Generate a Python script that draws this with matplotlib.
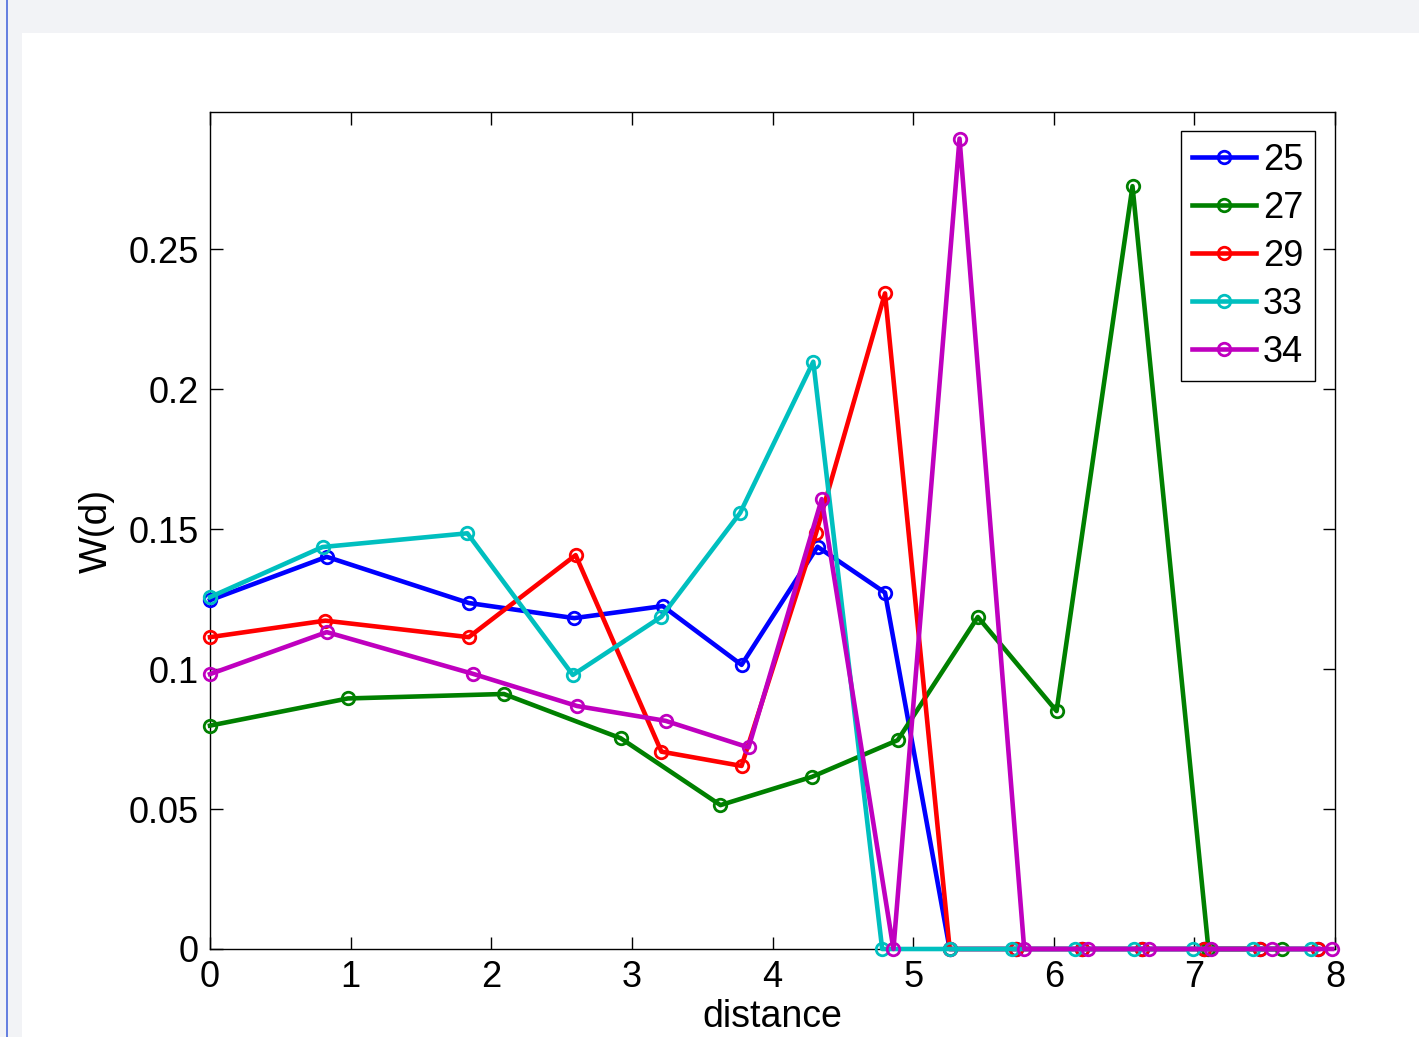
import matplotlib.pyplot as plt
from matplotlib.patches import Rectangle

# distance bins / W(d) values per group
labels = ['25', '27', '29', '33', '34']

x_25 = [0, 0.83, 1.84, 2.59, 3.22, 3.78, 4.32, 4.80, 5.26, 5.73, 6.20, 6.63, 7.07, 7.47, 7.88]
w_25 = [0.1246, 0.1401, 0.1236, 0.1182, 0.1225, 0.1015, 0.1437, 0.1273, 0, 0, 0, 0, 0, 0, 0]

x_27 = [0, 0.98, 2.09, 2.92, 3.63, 4.28, 4.89, 5.46, 6.02, 6.56, 7.10, 7.62]
w_27 = [0.0798, 0.0895, 0.0911, 0.0753, 0.0514, 0.0615, 0.0746, 0.1186, 0.0850, 0.2725, 0, 0]

x_29 = [0, 0.82, 1.84, 2.60, 3.21, 3.78, 4.31, 4.80, 5.26, 5.73, 6.20, 6.63, 7.07, 7.47, 7.88]
w_29 = [0.1114, 0.1173, 0.1114, 0.1407, 0.0705, 0.0654, 0.1486, 0.2342, 0, 0, 0, 0, 0, 0, 0]

x_33 = [0, 0.80, 1.83, 2.58, 3.21, 3.77, 4.29, 4.78, 5.26, 5.70, 6.15, 6.57, 6.99, 7.42, 7.83]
w_33 = [0.1257, 0.1436, 0.1485, 0.0979, 0.1187, 0.1558, 0.2098, 0, 0, 0, 0, 0, 0, 0, 0]

x_34 = [0, 0.83, 1.87, 2.61, 3.24, 3.83, 4.35, 4.86, 5.33, 5.79, 6.24, 6.68, 7.12, 7.55, 7.98]
w_34 = [0.0982, 0.1132, 0.0983, 0.0868, 0.0815, 0.0720, 0.1607, 0, 0.2895, 0, 0, 0, 0, 0, 0]

colors = ['#0000ff', '#008000', '#ff0000', '#00bfbf', '#bf00bf']
xs = [x_25, x_27, x_29, x_33, x_34]
ws = [w_25, w_27, w_29, w_33, w_34]

plt.rcParams['font.family'] = ['Liberation Sans', 'DejaVu Sans']

fig = plt.figure(figsize=(14.19, 10.37), dpi=100)
fig.patch.set_facecolor('white')

# window frame bits around the plot
fig.patches.append(Rectangle((0, 1 - 33 / 1037), 1, 33 / 1037, transform=fig.transFigure,
                             facecolor='#f2f3f6', edgecolor='none', zorder=0))
fig.patches.append(Rectangle((0, 0), 22 / 1419, 1, transform=fig.transFigure,
                             facecolor='#f2f3f6', edgecolor='none', zorder=0))
fig.patches.append(Rectangle((5.5 / 1419, 0), 2.5 / 1419, 1, transform=fig.transFigure,
                             facecolor='#6680e0', edgecolor='none', zorder=1))

ax = fig.add_axes([210 / 1419, 88 / 1037, 1125 / 1419, 837 / 1037])

for i in range(len(labels)):
    ax.plot(xs[i], ws[i], '-o', color=colors[i], lw=3.3, ms=9, mew=2,
            mfc='none', label=labels[i], clip_on=False, zorder=3 + i)

ax.set_xlim(0, 8)
ax.set_ylim(0, 0.299)
ax.set_xticks(range(0, 9))
ax.set_yticks([0, 0.05, 0.1, 0.15, 0.2, 0.25])
ax.set_yticklabels(['0', '0.05', '0.1', '0.15', '0.2', '0.25'])
ax.tick_params(direction='in', length=9, width=1, labelsize=26, top=True, right=True, pad=8)
for s in ax.spines.values():
    s.set_linewidth(1)

ax.set_xlabel('distance', fontsize=27, labelpad=3)
ax.set_ylabel('W(d)', fontsize=28, labelpad=10)

leg = ax.legend(loc='upper right', bbox_to_anchor=(0.982, 0.977), borderaxespad=0,
                fontsize=26, numpoints=1, handlelength=1.75, handletextpad=0.2,
                labelspacing=0.36, borderpad=0.32, fancybox=False, framealpha=1,
                edgecolor='black')
leg.get_frame().set_linewidth(1)

fig.savefig('out.png', dpi=100)
